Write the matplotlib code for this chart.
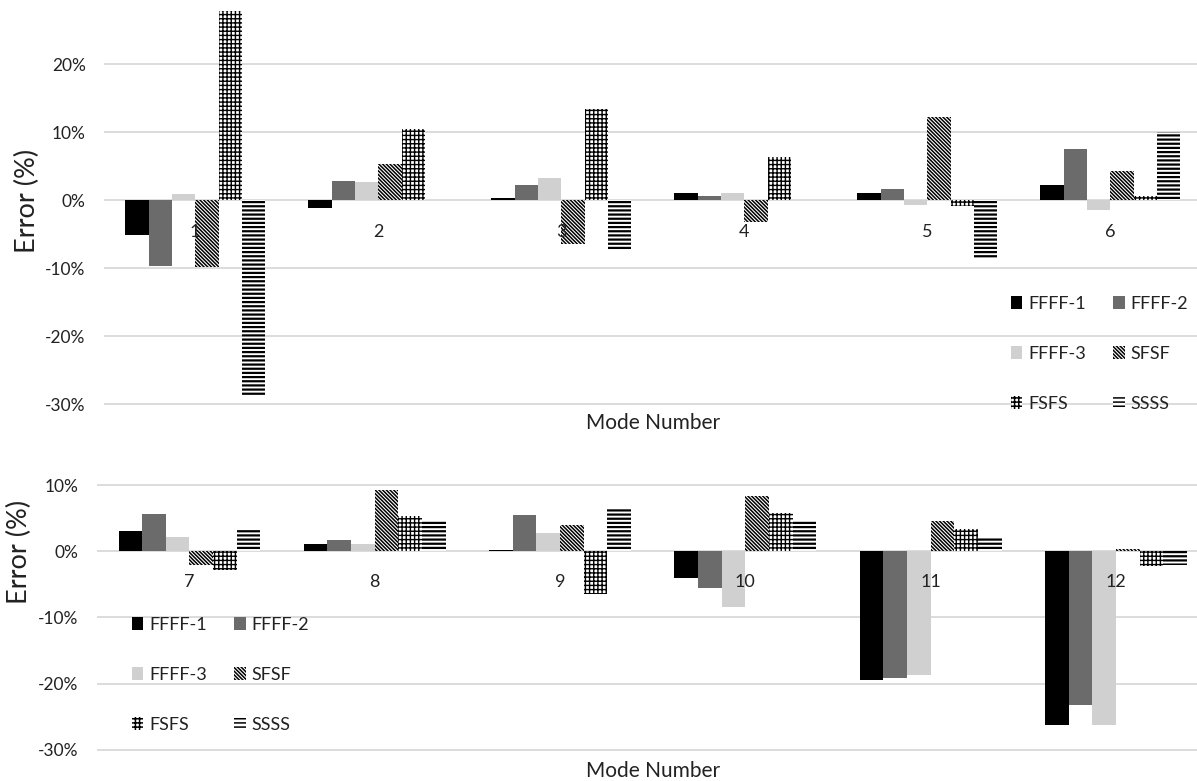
import matplotlib
matplotlib.use("Agg")
import matplotlib.pyplot as plt
from matplotlib.ticker import FuncFormatter, FixedLocator
import numpy as np

# ---- data: error (%) per mode number for each configuration ----
series_names = ["FFFF-1", "FFFF-2", "FFFF-3", "SFSF", "FSFS", "SSSS"]

modes_top = ["1", "2", "3", "4", "5", "6"]
ffff1_top = [-5.15, -1.2, 0.3, 1.1, 1.0, 2.2]
ffff2_top = [-9.6, 2.85, 2.2, 0.6, 1.7, 7.6]
ffff3_top = [0.9, 2.75, 3.3, 1.1, -0.65, -1.4]
sfsf_top = [-9.75, 5.4, -6.4, -3.2, 12.3, 4.3]
fsfs_top = [27.8, 10.5, 13.4, 6.4, -0.9, 0.6]
ssss_top = [-28.8, 0.0, -7.3, 0.0, -8.6, 10.0]

modes_bot = ["7", "8", "9", "10", "11", "12"]
ffff1_bot = [3.1, 1.1, 0.25, -4.0, -19.5, -26.3]
ffff2_bot = [5.7, 1.7, 5.5, -5.5, -19.1, -23.2]
ffff3_bot = [2.2, 1.1, 2.7, -8.4, -18.7, -26.3]
sfsf_bot = [-2.0, 9.2, 4.0, 8.3, 4.6, 0.3]
fsfs_bot = [-2.8, 5.3, -6.5, 5.8, 3.4, -2.2]
ssss_bot = [3.2, 4.6, 6.5, 4.6, 2.0, -2.1]

yticks_top = [-30, -20, -10, 0, 10, 20]
yticks_bot = [-30, -20, -10, 0, 10]

# ---- styling ----
plt.rcParams["font.family"] = ["Lato", "DejaVu Sans"]
plt.rcParams["axes.unicode_minus"] = False
plt.rcParams["hatch.linewidth"] = 1.1

styles = [
    dict(color="#000000", hatch=None, hlw=None),
    dict(color="#6b6b6b", hatch=None, hlw=None),
    dict(color="#d0d0d0", hatch=None, hlw=None),
    dict(color="white", hatch="\\" * 9, hlw=1.1),
    dict(color="white", hatch="++++", hlw=1.0),
    dict(color="white", hatch="----", hlw=1.6),
]
GRID = "#d9d9d9"
TEXT = "#222222"
W, H = 1197, 781

fig = plt.figure(figsize=(W / 100, H / 100), dpi=100)


def axes_at(left_px, cat_px, zero_px, px_per_unit, lo, hi):
    """Place an axes so data maps onto the given pixel geometry."""
    width_px = 6 * cat_px
    top_px = zero_px - hi * px_per_unit
    bot_px = zero_px - lo * px_per_unit
    return fig.add_axes([left_px / W, 1 - bot_px / H, width_px / W,
                         (bot_px - top_px) / H])


def draw_panel(ax, cats, series, yticks, lo, hi, label_drop_px):
    x = np.arange(len(cats))
    bw = 0.1275
    handles = []
    for i, (vals, st) in enumerate(zip(series, styles)):
        off = (i - 2.5) * bw
        if st["hatch"]:
            with plt.rc_context({"hatch.linewidth": st["hlw"]}):
                bars = ax.bar(x + off, vals, bw, facecolor="white",
                              edgecolor="black", linewidth=0,
                              hatch=st["hatch"], label=series_names[i],
                              zorder=3)
            for p in bars:
                if hasattr(p, "set_hatch_linewidth"):
                    p.set_hatch_linewidth(st["hlw"])
        else:
            bars = ax.bar(x + off, vals, bw, color=st["color"], linewidth=0,
                          label=series_names[i], zorder=3)
        handles.append(bars)
    ax.set_xlim(-0.5, len(cats) - 0.5)
    ax.set_ylim(lo, hi)
    ax.yaxis.set_major_locator(FixedLocator(yticks))
    ax.yaxis.set_major_formatter(FuncFormatter(lambda v, p: f"{v:.0f}%"))
    ax.grid(axis="y", color=GRID, linewidth=1.3, zorder=0)
    ax.set_axisbelow(True)
    for s in ax.spines.values():
        s.set_visible(False)
    ax.set_xticks([])
    ax.tick_params(axis="y", length=0, pad=13, labelsize=12.5, colors=TEXT)
    # category labels sit just under the zero line, above the bars
    for xi, c in zip(x, cats):
        ax.annotate(c, xy=(xi, 0), xytext=(0, -label_drop_px * 0.72),
                    textcoords="offset points", ha="center", va="center",
                    fontsize=13, color=TEXT, zorder=10)
    return handles


def add_legend(ax, handles, x_px, y_px):
    order = [0, 2, 4, 1, 3, 5]
    ax.legend([handles[i] for i in order], [series_names[i] for i in order],
              ncol=2, frameon=False, fontsize=13,
              loc="upper left", bbox_to_anchor=(x_px / W, 1 - y_px / H),
              bbox_transform=fig.transFigure, borderpad=0, borderaxespad=0,
              handlelength=0.62, handleheight=0.75, handletextpad=0.35,
              columnspacing=1.5, labelspacing=1.88, labelcolor=TEXT)


# top panel: modes 1-6
ax1 = axes_at(103.7, 183.0, 200.3, 6.8, -30.4, 28.1)
h1 = draw_panel(ax1, modes_top,
                [ffff1_top, ffff2_top, ffff3_top, sfsf_top, fsfs_top, ssss_top],
                yticks_top, -30.4, 28.1, 31.5)
add_legend(ax1, h1, 1011, 296)

# bottom panel: modes 7-12
ax2 = axes_at(96.8, 185.3, 551.3, 6.615, -30.4, 10.4)
h2 = draw_panel(ax2, modes_bot,
                [ffff1_bot, ffff2_bot, ffff3_bot, sfsf_bot, fsfs_bot, ssss_bot],
                yticks_bot, -30.4, 10.4, 30.5)
add_legend(ax2, h2, 132, 617)

# axis titles
fig.text(27 / W, 1 - 201 / H, "Error (%)", rotation=90, ha="center",
         va="center", fontsize=19.5, color=TEXT)
fig.text(19 / W, 1 - 552 / H, "Error (%)", rotation=90, ha="center",
         va="center", fontsize=19.5, color=TEXT)
fig.text(653 / W, 1 - 423 / H, "Mode Number", ha="center", va="center",
         fontsize=15, color=TEXT)
fig.text(653 / W, 1 - 771 / H, "Mode Number", ha="center", va="center",
         fontsize=15, color=TEXT)

fig.savefig("out.png", dpi=100, facecolor="white")
